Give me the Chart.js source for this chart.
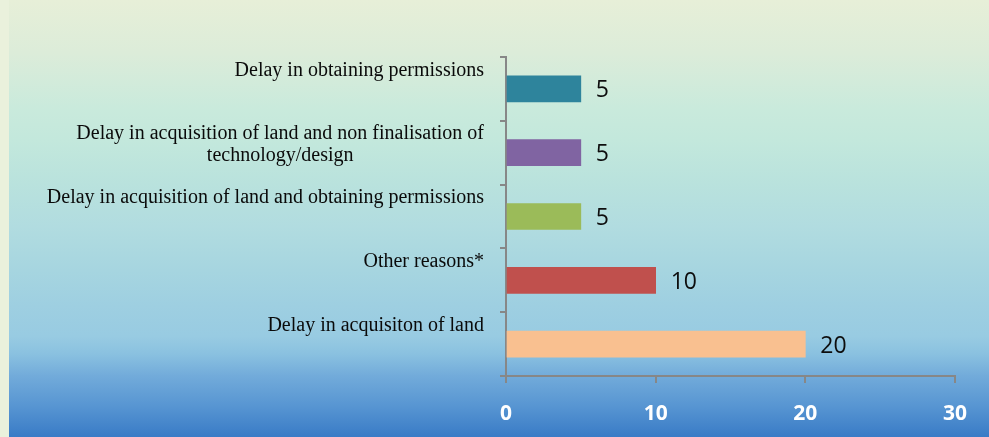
<!DOCTYPE html>
<html>
<head>
<meta charset="utf-8">
<script src="https://cdn.jsdelivr.net/npm/chart.js@4/dist/chart.umd.min.js"></script>
<style>
  html, body { margin: 0; padding: 0; background: #EAF1DC; }
  #wrap { width: 989px; height: 437px; }
</style>
</head>
<body>
<div id="wrap"><canvas id="c" width="989" height="437"></canvas></div>
<script>
// ---- data ----
const categories = [
  'Delay in obtaining permissions',
  ['Delay in acquisition of land and non finalisation of', 'technology/design'],
  'Delay in acquisition of land and obtaining permissions',
  'Other reasons*',
  'Delay in acquisiton of land'
];
const values = [5, 5, 5, 10, 20];
const barColors = ['#2E849C', '#8064A2', '#9BBB59', '#C0504D', '#F9C090'];
const xTicks = [0, 10, 20, 30];

// ---- plugins ----
const bgPlugin = {
  id: 'bg',
  beforeDraw(chart) {
    const ctx = chart.ctx;
    const W = chart.width, H = chart.height;
    ctx.save();
    ctx.fillStyle = '#EAF1DC';
    ctx.fillRect(0, 0, W, H);
    const g = ctx.createLinearGradient(0, 0, 0, H);
    g.addColorStop(0.00, '#E7EFD8');
    g.addColorStop(0.12, '#DCECD9');
    g.addColorStop(0.25, '#C9EADC');
    g.addColorStop(0.32, '#C3E8DC');
    g.addColorStop(0.42, '#B9E2DD');
    g.addColorStop(0.52, '#B1DCE0');
    g.addColorStop(0.62, '#A6D5E0');
    g.addColorStop(0.70, '#9ECFE1');
    g.addColorStop(0.77, '#98CBE2');
    g.addColorStop(0.81, '#8AC1E0');
    g.addColorStop(0.86, '#72ABDA');
    g.addColorStop(0.93, '#5795D2');
    g.addColorStop(1.00, '#397BC6');
    ctx.fillStyle = g;
    ctx.fillRect(9, 0, W - 9, H);
    ctx.restore();
  }
};

const yLabelPlugin = {
  id: 'ylabels',
  afterDraw(chart) {
    const ctx = chart.ctx;
    const ys = chart.scales.y;
    ctx.save();
    ctx.font = '20px "Liberation Serif", "Times New Roman", serif';
    ctx.fillStyle = '#0A0A0A';
    ctx.textAlign = 'center';
    ctx.textBaseline = 'alphabetic';
    const rightEdge = ys.right - 22;
    chart.data.labels.forEach((lab, i) => {
      const lines = Array.isArray(lab) ? lab : [lab];
      const maxW = Math.max(...lines.map(l => ctx.measureText(l).width));
      const cx = rightEdge - maxW / 2;
      const cy = ys.getPixelForValue(i);
      lines.forEach((l, j) => ctx.fillText(l, cx, cy - 13.3 + j * 22));
    });
    ctx.restore();
  }
};

const valuePlugin = {
  id: 'values',
  afterDatasetsDraw(chart) {
    const ctx = chart.ctx;
    const meta = chart.getDatasetMeta(0);
    ctx.save();
    ctx.font = '23px "Open Sans", Lato, sans-serif';
    ctx.fillStyle = '#0D0D0D';
    ctx.textAlign = 'left';
    ctx.textBaseline = 'alphabetic';
    meta.data.forEach((el, i) => {
      ctx.fillText(String(chart.data.datasets[0].data[i]), el.x + 15, el.y + 8.5);
    });
    ctx.restore();
  }
};

const axisColor = '#878787';

new Chart(document.getElementById('c'), {
  type: 'bar',
  data: {
    labels: categories,
    datasets: [{
      data: values,
      backgroundColor: barColors,
      borderWidth: 0,
      barThickness: 26
    }]
  },
  options: {
    indexAxis: 'y',
    responsive: false,
    animation: false,
    layout: { padding: { top: 57, right: 34, left: 0, bottom: 0 } },
    plugins: { legend: { display: false }, tooltip: { enabled: false } },
    scales: {
      x: {
        type: 'linear',
        min: xTicks[0],
        max: xTicks[xTicks.length - 1],
        afterBuildTicks(s) { s.ticks = xTicks.map(v => ({ value: v })); },
        ticks: {
          color: '#FFFFFF',
          font: { family: '"Open Sans"', weight: 'bold', size: 21 },
          padding: 18
        },
        grid: { drawOnChartArea: false, tickLength: 7, color: axisColor, lineWidth: 2 },
        border: { display: true, color: axisColor, width: 2 },
        afterFit(s) { s.height = 61; }
      },
      y: {
        ticks: { display: false },
        grid: { drawOnChartArea: false, tickLength: 6, color: axisColor, lineWidth: 2, offset: true },
        border: { display: true, color: axisColor, width: 2 },
        afterFit(s) { s.width = 506; }
      }
    }
  },
  plugins: [bgPlugin, yLabelPlugin, valuePlugin]
});
</script>
</body>
</html>
